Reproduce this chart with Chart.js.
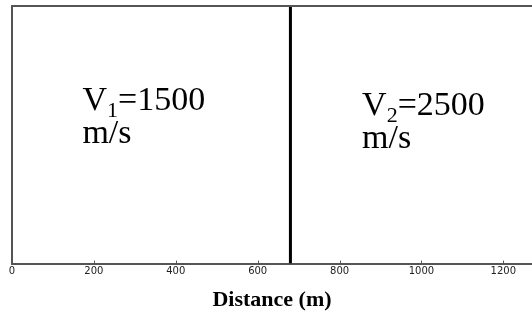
<!DOCTYPE html>
<html>
<head>
<meta charset="utf-8">
<script src="https://cdn.jsdelivr.net/npm/chart.js@4.4.1/dist/chart.umd.min.js"></script>
<style>
html,body{margin:0;padding:0;background:#fff;overflow:hidden}
#wrap{width:532px;height:322px}
</style>
</head>
<body>
<div id="wrap"><canvas id="chart"></canvas></div>
<script>
// x axis (metres)
const xMin=0, xMax=1270;
const tickStep=200;
// interface between the two layers
const boundaryX=680;
// layer labels: subscript, value, unit
const layerSub=["1","2"];
const layerVelocity=[1500,2500];
const layerUnit=["m/s","m/s"];
const layerLabelX=[172,855];      // where each label starts (metres)
const layerLabelY=[0.595,0.575];  // baseline of first line (0..1 of the box height)

// box + inward ticks + layer text
const layerText={
    id:'layerText',
    afterDatasetsDraw(chart){
        const {ctx,chartArea,scales}=chart;
        const x=scales.x, y=scales.y;
        ctx.save();
        // left and top edges of the box
        ctx.strokeStyle='#555';
        ctx.lineWidth=2;
        ctx.beginPath();
        ctx.moveTo(chartArea.left,chartArea.bottom);
        ctx.lineTo(chartArea.left,chartArea.top);
        ctx.lineTo(chartArea.right+2,chartArea.top);
        ctx.stroke();
        // small ticks pointing up into the box
        ctx.lineWidth=1;
        x.ticks.forEach(t=>{
            const px=Math.round(x.getPixelForValue(t.value))+0.5;
            ctx.beginPath();
            ctx.moveTo(px,chartArea.bottom);
            ctx.lineTo(px,chartArea.bottom-3);
            ctx.stroke();
        });
        // V_n=xxxx / m/s
        ctx.fillStyle='#000';
        ctx.textBaseline='alphabetic';
        ctx.textAlign='left';
        const big='34px "Liberation Serif", "Times New Roman", serif';
        const small='22px "Liberation Serif", "Times New Roman", serif';
        layerVelocity.forEach((v,i)=>{
            const x0=x.getPixelForValue(layerLabelX[i]);
            const py=y.getPixelForValue(layerLabelY[i]);
            let px=x0;
            ctx.font=big;
            ctx.fillText('V',px,py);
            px+=ctx.measureText('V').width;
            ctx.font=small;
            ctx.fillText(layerSub[i],px,py+7);
            px+=ctx.measureText(layerSub[i]).width;
            ctx.font=big;
            ctx.fillText('='+v,px,py);
            ctx.fillText(layerUnit[i],x0,py+33);
        });
        ctx.restore();
    }
};

new Chart(document.getElementById('chart'),{
    type:'line',
    data:{
        datasets:[{
            data:[{x:boundaryX,y:0},{x:boundaryX,y:1}],
            borderColor:'#000',
            borderWidth:3,
            pointRadius:0,
            fill:false
        }]
    },
    options:{
        responsive:true,
        maintainAspectRatio:false,
        animation:false,
        layout:{padding:{left:12,top:6,right:0,bottom:0}},
        plugins:{legend:{display:false},tooltip:{enabled:false}},
        scales:{
            x:{
                type:'linear',
                min:xMin,
                max:xMax,
                border:{display:true,color:'#555',width:2},
                grid:{display:false,drawTicks:false},
                ticks:{
                    stepSize:tickStep,
                    includeBounds:false,
                    maxRotation:0,
                    padding:2,
                    color:'#222',
                    font:{family:'"DejaVu Sans", sans-serif',size:10},
                    callback:v=>String(v)
                },
                title:{
                    display:true,
                    text:'Distance (m)',
                    color:'#000',
                    padding:{top:8,bottom:8},
                    font:{family:'"Liberation Serif", "Times New Roman", serif',size:22,weight:'bold'}
                }
            },
            y:{
                display:false,
                min:0,
                max:1
            }
        }
    },
    plugins:[layerText]
});
</script>
</body>
</html>
